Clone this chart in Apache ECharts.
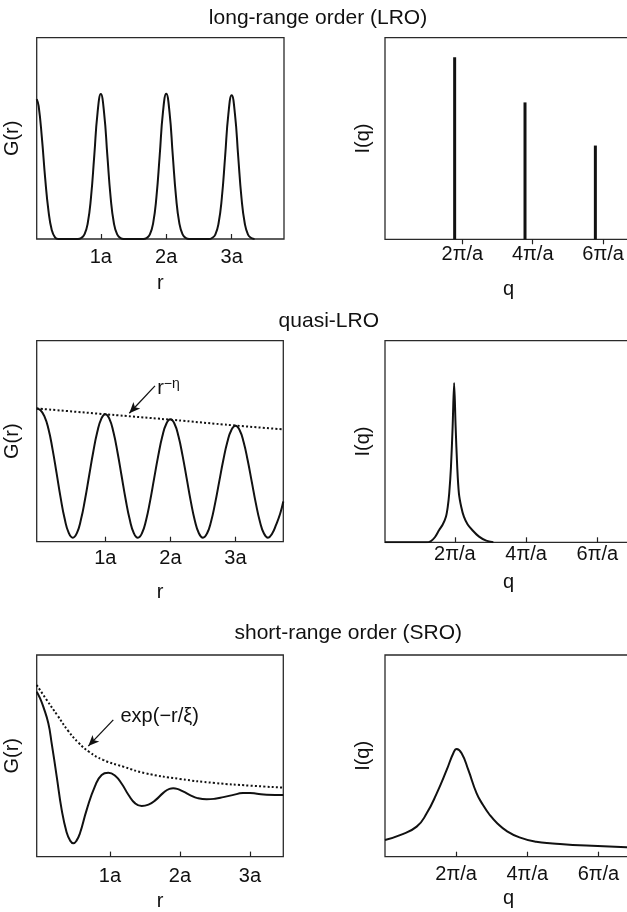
<!DOCTYPE html>
<html>
<head>
<meta charset="utf-8">
<script src="https://cdn.jsdelivr.net/npm/echarts@6/dist/echarts.min.js"></script>
<style>
  html, body { margin: 0; padding: 0; background: #fff; overflow: hidden; }
  #chart { width: 640px; height: 912px; }
</style>
</head>
<body>
<div id="chart"></div>
<script>
// ---- tick labels and titles ----
const rTickValues = [1, 2, 3];
const rTickLabels = ['1a', '2a', '3a'];
const qTickValues = [1, 2, 3];
const qTickLabels = ['2\u03c0/a', '4\u03c0/a', '6\u03c0/a'];
const panelTitles = ['long-range order (LRO)', 'quasi-LRO', 'short-range order (SRO)'];

// ---- long-range order: G(r) in units of a, I(q) in units of 2π/a ----
const lroG = [
  [0.02, 0.695], [0.05, 0.66], [0.1, 0.5], [0.15, 0.3], [0.2, 0.14], [0.25, 0.045], [0.3, 0.008], [0.35, 0],
  [0.65, 0], [0.7, 0.005], [0.75, 0.023], [0.8, 0.078], [0.85, 0.207], [0.9, 0.414], [0.95, 0.627], [1.0, 0.72],
  [1.05, 0.627], [1.1, 0.414], [1.15, 0.207], [1.2, 0.078], [1.25, 0.023], [1.3, 0.005], [1.35, 0],
  [1.65, 0], [1.7, 0.005], [1.75, 0.023], [1.8, 0.079], [1.85, 0.208], [1.9, 0.415], [1.95, 0.63], [2.0, 0.722],
  [2.05, 0.63], [2.1, 0.415], [2.15, 0.208], [2.2, 0.079], [2.25, 0.023], [2.3, 0.005], [2.35, 0],
  [2.65, 0], [2.7, 0.005], [2.75, 0.022], [2.8, 0.078], [2.85, 0.205], [2.9, 0.41], [2.95, 0.622], [3.0, 0.714],
  [3.05, 0.622], [3.1, 0.41], [3.15, 0.205], [3.2, 0.078], [3.25, 0.022], [3.3, 0.005], [3.35, 0]
];
const lroI = [[0.89, 0.903], [1.89, 0.679], [2.89, 0.465]];

// ---- quasi long-range order ----
const quasiG = [
  [-0.055, 0.663], [0, 0.655], [0.0625, 0.625], [0.125, 0.562], [0.1875, 0.462], [0.25, 0.342],
  [0.3125, 0.219], [0.375, 0.114], [0.4375, 0.044], [0.5, 0.02],
  [0.5625, 0.043], [0.625, 0.11], [0.6875, 0.21], [0.75, 0.327], [0.8125, 0.444], [0.875, 0.544], [0.9375, 0.611], [1.0, 0.634],
  [1.0625, 0.611], [1.125, 0.544], [1.1875, 0.444], [1.25, 0.327], [1.3125, 0.21], [1.375, 0.11], [1.4375, 0.043], [1.5, 0.02],
  [1.5625, 0.042], [1.625, 0.106], [1.6875, 0.202], [1.75, 0.315], [1.8125, 0.427], [1.875, 0.523], [1.9375, 0.587], [2.0, 0.609],
  [2.0625, 0.587], [2.125, 0.523], [2.1875, 0.427], [2.25, 0.315], [2.3125, 0.202], [2.375, 0.106], [2.4375, 0.042], [2.5, 0.02],
  [2.5625, 0.041], [2.625, 0.101], [2.6875, 0.192], [2.75, 0.299], [2.8125, 0.405], [2.875, 0.496], [2.9375, 0.556], [3.0, 0.577],
  [3.0625, 0.556], [3.125, 0.496], [3.1875, 0.405], [3.25, 0.299], [3.3125, 0.192], [3.375, 0.101], [3.4375, 0.041], [3.5, 0.02],
  [3.5625, 0.04], [3.625, 0.085], [3.6875, 0.14], [3.735, 0.2]
];
const quasiEnvelope = [[-0.055, 0.663], [1, 0.634], [2, 0.607], [3, 0.578], [3.735, 0.559]];
const quasiI = [
  [0.02, 0], [0.6, 0], [0.66, 0.005], [0.72, 0.025], [0.78, 0.061], [0.83, 0.088], [0.875, 0.127],
  [0.9, 0.175], [0.921, 0.243], [0.945, 0.37], [0.969, 0.573], [0.99, 0.79], [1.011, 0.573],
  [1.034, 0.37], [1.057, 0.243], [1.09, 0.175], [1.127, 0.127], [1.18, 0.088], [1.244, 0.061],
  [1.34, 0.028], [1.44, 0.008], [1.54, 0]
];

// ---- short-range order ----
const sroG = [
  [-0.047, 0.818], [0.0, 0.786], [0.047, 0.744], [0.119, 0.661], [0.167, 0.562], [0.239, 0.397],
  [0.31, 0.232], [0.381, 0.12], [0.43, 0.08], [0.476, 0.066], [0.52, 0.078], [0.571, 0.116],
  [0.667, 0.232], [0.786, 0.35], [0.881, 0.405], [0.976, 0.416], [1.07, 0.402], [1.17, 0.36],
  [1.27, 0.303], [1.36, 0.264], [1.453, 0.251], [1.55, 0.258], [1.65, 0.28], [1.761, 0.316],
  [1.85, 0.336], [1.904, 0.339], [1.96, 0.336], [2.05, 0.322], [2.15, 0.304], [2.25, 0.29],
  [2.381, 0.284], [2.5, 0.287], [2.62, 0.295], [2.75, 0.305], [2.9, 0.315], [3.0, 0.316],
  [3.1, 0.312], [3.239, 0.307], [3.476, 0.306]
];
const sroEnvelope = [
  [-0.047, 0.851], [0.1, 0.775], [0.25, 0.7], [0.4, 0.625], [0.55, 0.565], [0.7, 0.52], [0.9, 0.48],
  [1.2, 0.445], [1.5, 0.414], [2.0, 0.385], [2.5, 0.365], [3.0, 0.352], [3.476, 0.342]
];
const sroI = [
  [0, 0.083], [0.211, 0.107], [0.445, 0.149], [0.586, 0.215], [0.727, 0.314], [0.867, 0.43],
  [0.96, 0.513], [1.007, 0.534], [1.077, 0.513], [1.171, 0.43], [1.288, 0.314], [1.38, 0.255],
  [1.47, 0.208], [1.58, 0.165], [1.708, 0.128], [1.89, 0.096], [2.125, 0.074], [2.358, 0.066],
  [2.827, 0.055], [3.476, 0.046]
];

// ---- annotation anchors (data space) ----
const quasiArrow = [[1.763, 0.775], [1.368, 0.639]];
const quasiLabelAt = [1.789, 0.771];
const sroArrow = [[1.047, 0.678], [0.69, 0.548]];
const sroLabelAt = [1.143, 0.693];

// ---- layout ----
const FONT = '"Liberation Sans", Arial, Helvetica, sans-serif';
const INK = '#111';
const grids = [
  { left: 36.7, top: 37.7, width: 247.3, height: 201.3 },
  { left: 385, top: 37.7, width: 247.3, height: 201.6 },
  { left: 36.7, top: 340.7, width: 246.6, height: 201 },
  { left: 385, top: 340.7, width: 247.3, height: 201.6 },
  { left: 36.7, top: 655, width: 246.6, height: 201.7 },
  { left: 385, top: 655, width: 247.3, height: 201.7 }
];
const xRanges = [[0.02, 3.8], [-0.1, 3.415], [-0.055, 3.735], [0.02, 3.49], [-0.047, 3.476], [0, 3.476]];
const tickInside = [true, false, true, true, true, true];
const labelMargin = [8.4, 4.8, 6.8, 1.8, 9.6, 7.8];
const xNameGap = [34, 40, 40.4, 30.6, 34.4, 32.2];
const titlePos = [[318, 7.3], [328.8, 310.6], [348.3, 622.3]];

const xAxes = grids.map((g, i) => {
  const isR = i % 2 === 0;
  const vals = isR ? rTickValues : qTickValues;
  const labs = isR ? rTickLabels : qTickLabels;
  return {
    type: 'value', gridIndex: i, min: xRanges[i][0], max: xRanges[i][1],
    name: isR ? 'r' : 'q', nameLocation: 'middle', nameGap: xNameGap[i],
    nameTextStyle: { fontFamily: FONT, fontSize: 20, color: INK },
    axisLine: { show: false },
    splitLine: { show: false },
    axisTick: { show: true, customValues: vals, inside: tickInside[i], length: 5,
                lineStyle: { color: '#222', width: 1.2 } },
    axisLabel: { show: true, customValues: vals, margin: labelMargin[i],
                 fontFamily: FONT, fontSize: 20, color: INK,
                 formatter: v => labs[vals.indexOf(Math.round(v))] || '' }
  };
});

const yAxes = grids.map((g, i) => ({
  type: 'value', gridIndex: i, min: 0, max: 1,
  name: i % 2 === 0 ? 'G(r)' : 'I(q)', nameLocation: 'middle',
  nameGap: i % 2 === 0 ? 14 : 11.85,
  nameTextStyle: { fontFamily: FONT, fontSize: 20, color: INK },
  axisLine: { show: false }, axisTick: { show: false }, axisLabel: { show: false },
  splitLine: { show: false }
}));

const solid = { color: INK, width: 2 };
const dotted = { color: INK, width: 2, type: [2, 2.2] };

function curve(i, data, style, smooth) {
  return { type: 'line', xAxisIndex: i, yAxisIndex: i, data: data, smooth: smooth,
           symbol: 'none', lineStyle: style, silent: true, clip: true };
}

function arrow(pts) {
  return {
    silent: true, symbol: ['none', 'arrow'], symbolSize: [7, 11],
    lineStyle: { type: 'solid', color: INK, width: 1.3 },
    itemStyle: { color: INK },
    label: { show: false },
    data: [[{ coord: pts[0] }, { coord: pts[1] }]]
  };
}

const quasiEnv = curve(2, quasiEnvelope, dotted, true);
quasiEnv.markLine = arrow(quasiArrow);
quasiEnv.markPoint = {
  silent: true, symbol: 'circle', symbolSize: 1, itemStyle: { color: 'rgba(0,0,0,0)' },
  label: {
    show: true, position: 'right', distance: 0,
    formatter: '{a|r}{b|\u2212\u03b7}',
    rich: {
      a: { fontFamily: FONT, fontSize: 20, color: INK, lineHeight: 20, padding: [4, 0, 0, 0] },
      b: { fontFamily: FONT, fontSize: 14, color: INK, lineHeight: 14, verticalAlign: 'top' }
    }
  },
  data: [{ coord: quasiLabelAt }]
};

const sroEnv = curve(4, sroEnvelope, dotted, true);
sroEnv.markLine = arrow(sroArrow);
sroEnv.markPoint = {
  silent: true, symbol: 'circle', symbolSize: 1, itemStyle: { color: 'rgba(0,0,0,0)' },
  label: { show: true, position: 'right', distance: 0, formatter: 'exp(\u2212r/\u03be)',
           fontFamily: FONT, fontSize: 20, color: INK },
  data: [{ coord: sroLabelAt }]
};

const option = {
  animation: false,
  backgroundColor: '#fff',
  textStyle: { fontFamily: FONT },
  grid: grids.map(g => Object.assign({ show: true, borderColor: '#2a2a2a', borderWidth: 1.3,
                                        backgroundColor: 'transparent', containLabel: false }, g)),
  xAxis: xAxes,
  yAxis: yAxes,
  graphic: panelTitles.map((t, i) => ({
    type: 'text', x: titlePos[i][0], y: titlePos[i][1], silent: true,
    style: { text: t, fill: INK, font: '21px ' + FONT, fontSize: 21, fontFamily: FONT,
             align: 'center', verticalAlign: 'top', textAlign: 'center', textVerticalAlign: 'top' }
  })),
  series: [
    curve(0, lroG, solid, true),
    { type: 'bar', xAxisIndex: 1, yAxisIndex: 1, data: lroI, barWidth: 3,
      itemStyle: { color: INK }, silent: true },
    curve(2, quasiG, solid, true),
    quasiEnv,
    curve(3, quasiI, solid, 0.3),
    curve(4, sroG, solid, true),
    sroEnv,
    curve(5, sroI, solid, true)
  ]
};

const chart = echarts.init(document.getElementById('chart'), null, { renderer: 'canvas' });
chart.setOption(option);
</script>
</body>
</html>
